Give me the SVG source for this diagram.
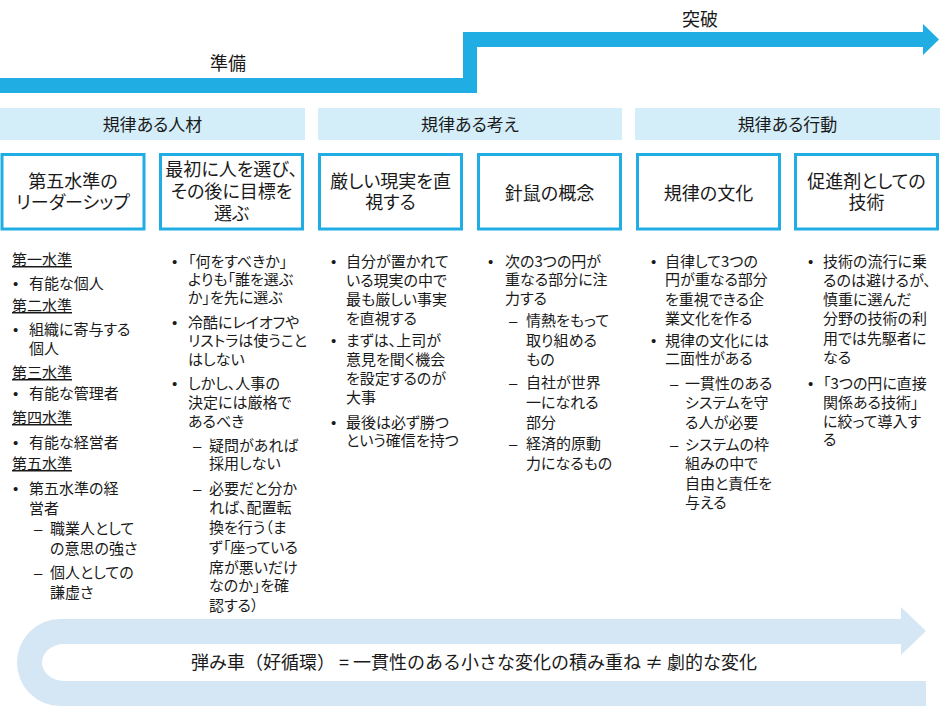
<svg xmlns="http://www.w3.org/2000/svg" width="940" height="706" viewBox="0 0 940 706">
<style>
text{font-family:"Noto Sans CJK JP","Noto Sans",sans-serif;fill:#1a1a1a;font-feature-settings:"palt";}
.lbl{font-size:18px;text-anchor:middle;}
.full{font-feature-settings:normal;}
.hd{font-size:17px;text-anchor:middle;}
.nt{font-size:18px;text-anchor:middle;}
.t{font-size:15px;}
.u{text-decoration:underline;}
.b{font-family:"Liberation Sans",sans-serif;font-size:15px;}
.hbar{fill:#D3EDF9;}
.box{fill:#fff;stroke:#1FADE4;stroke-width:3;}
</style>
<rect width="940" height="706" fill="#fff"/>
<g id="connectors">
<path id="stage-arrow" d="M0 78 L463 78 L463 32 L923 32 L923 24 L939 39.5 L923 55 L923 47 L477 47 L477 93 L0 93 Z" fill="#1FADE4"/>
<path id="flywheel-arrow" d="M901 619 L901 607 L926 631 L901 655 L901 644 L64 644 A22 18.5 0 0 0 64 681 L926 681 L926 706 L60 706 A43 43.5 0 0 1 60 619 Z" fill="#D5E7F5"/>
</g>
<g id="stage-labels">
<text class="lbl" x="228" y="70">準備</text>
<text class="lbl" x="700" y="26">突破</text>
</g>
<g id="hdr-people"><rect class="hbar" x="0" y="108" width="305" height="32"/><text class="hd" x="152.5" y="131">規律ある人材</text></g>
<g id="hdr-thought"><rect class="hbar" x="318" y="108" width="304" height="32"/><text class="hd" x="470" y="131">規律ある考え</text></g>
<g id="hdr-action"><rect class="hbar" x="635" y="108" width="305" height="32"/><text class="hd" x="787.5" y="131">規律ある行動</text></g>

<g id="node-level5">
<rect class="box" x="2" y="154.5" width="142" height="74.5"/>
<text class="nt" x="73" y="188">第五水準の</text>
<text class="nt" x="73" y="209">リーダーシップ</text>
</g>
<g id="node-who-first">
<rect class="box" x="160.5" y="154.5" width="142" height="74.5"/>
<text class="nt" x="231.5" y="176">最初に人を選び、</text>
<text class="nt" x="231.5" y="198">その後に目標を</text>
<text class="nt" x="231.5" y="220">選ぶ</text>
</g>
<g id="node-brutal-facts">
<rect class="box" x="319.5" y="154.5" width="142" height="74.5"/>
<text class="nt" x="390.5" y="188">厳しい現実を直</text>
<text class="nt" x="390.5" y="209">視する</text>
</g>
<g id="node-hedgehog">
<rect class="box" x="478.5" y="154.5" width="142" height="74.5"/>
<text class="nt" x="549.5" y="200">針鼠の概念</text>
</g>
<g id="node-culture">
<rect class="box" x="637.5" y="154.5" width="142" height="74.5"/>
<text class="nt" x="708.5" y="200">規律の文化</text>
</g>
<g id="node-technology">
<rect class="box" x="795.5" y="154.5" width="142" height="74.5"/>
<text class="nt" x="866.5" y="188">促進剤としての</text>
<text class="nt" x="866.5" y="209">技術</text>
</g>

<g id="col-level5">
<text class="t u" x="12" y="265">第一水準</text>
<text class="b" x="13" y="289">•</text><text class="t" x="29" y="289">有能な個人</text>
<text class="t u" x="12" y="311">第二水準</text>
<text class="b" x="13" y="335">•</text><text class="t" x="29" y="335">組織に寄与する</text>
<text class="t" x="29" y="354">個人</text>
<text class="t u" x="12" y="378">第三水準</text>
<text class="b" x="13" y="399">•</text><text class="t" x="29" y="399">有能な管理者</text>
<text class="t u" x="12" y="423">第四水準</text>
<text class="b" x="13" y="448">•</text><text class="t" x="29" y="448">有能な経営者</text>
<text class="t u" x="12" y="469">第五水準</text>
<text class="b" x="13" y="494">•</text><text class="t" x="29" y="494">第五水準の経</text>
<text class="t" x="29" y="514">営者</text>
<text class="b" x="34" y="534">–</text><text class="t" x="50" y="534">職業人として</text>
<text class="t" x="50" y="554">の意思の強さ</text>
<text class="b" x="34" y="578">–</text><text class="t" x="50" y="578">個人としての</text>
<text class="t" x="50" y="598">謙虚さ</text>
</g>

<g id="col-who-first">
<text class="b" x="172" y="267">•</text><text class="t" x="188" y="267">「何をすべきか」</text>
<text class="t" x="188" y="285">よりも「誰を選ぶ</text>
<text class="t" x="188" y="303">か」を先に選ぶ</text>
<text class="b" x="172" y="328">•</text><text class="t" x="188" y="328">冷酷にレイオフや</text>
<text class="t" x="188" y="346">リストラは使うこと</text>
<text class="t" x="188" y="365">はしない</text>
<text class="b" x="172" y="389">•</text><text class="t" x="188" y="389">しかし、人事の</text>
<text class="t" x="188" y="408">決定には厳格で</text>
<text class="t" x="188" y="427">あるべき</text>
<text class="b" x="193" y="451">–</text><text class="t" x="209" y="451">疑問があれば</text>
<text class="t" x="209" y="469">採用しない</text>
<text class="b" x="193" y="494">–</text><text class="t" x="209" y="494">必要だと分か</text>
<text class="t" x="209" y="513">れば、配置転</text>
<text class="t" x="209" y="533">換を行う（ま</text>
<text class="t" x="209" y="553">ず「座っている</text>
<text class="t" x="209" y="573">席が悪いだけ</text>
<text class="t" x="209" y="591">なのか」を確</text>
<text class="t" x="209" y="611">認する）</text>
</g>

<g id="col-brutal-facts">
<text class="b" x="331" y="267">•</text><text class="t" x="346" y="267">自分が置かれて</text>
<text class="t" x="346" y="286">いる現実の中で</text>
<text class="t" x="346" y="305">最も厳しい事実</text>
<text class="t" x="346" y="324">を直視する</text>
<text class="b" x="331" y="346">•</text><text class="t" x="346" y="346">まずは、上司が</text>
<text class="t" x="346" y="365">意見を聞く機会</text>
<text class="t" x="346" y="384">を設定するのが</text>
<text class="t" x="346" y="403">大事</text>
<text class="b" x="331" y="428">•</text><text class="t" x="346" y="428">最後は必ず勝つ</text>
<text class="t" x="346" y="446">という確信を持つ</text>
</g>

<g id="col-hedgehog">
<text class="b" x="488" y="267">•</text><text class="t" x="505" y="267">次の3つの円が</text>
<text class="t" x="505" y="285">重なる部分に注</text>
<text class="t" x="505" y="304">力する</text>
<text class="b" x="509" y="326">–</text><text class="t" x="526" y="326">情熱をもって</text>
<text class="t" x="526" y="346">取り組める</text>
<text class="t" x="526" y="365">もの</text>
<text class="b" x="509" y="388">–</text><text class="t" x="526" y="388">自社が世界</text>
<text class="t" x="526" y="408">一になれる</text>
<text class="t" x="526" y="428">部分</text>
<text class="b" x="509" y="449">–</text><text class="t" x="526" y="449">経済的原動</text>
<text class="t" x="526" y="469">力になるもの</text>
</g>

<g id="col-culture">
<text class="b" x="651" y="267">•</text><text class="t" x="665" y="267">自律して3つの</text>
<text class="t" x="665" y="285">円が重なる部分</text>
<text class="t" x="665" y="305">を重視できる企</text>
<text class="t" x="665" y="324">業文化を作る</text>
<text class="b" x="651" y="346">•</text><text class="t" x="665" y="346">規律の文化には</text>
<text class="t" x="665" y="364">二面性がある</text>
<text class="b" x="670" y="389">–</text><text class="t" x="685" y="389">一貫性のある</text>
<text class="t" x="685" y="408">システムを守</text>
<text class="t" x="685" y="428">る人が必要</text>
<text class="b" x="670" y="450">–</text><text class="t" x="685" y="450">システムの枠</text>
<text class="t" x="685" y="469">組みの中で</text>
<text class="t" x="685" y="489">自由と責任を</text>
<text class="t" x="685" y="508">与える</text>
</g>

<g id="col-technology">
<text class="b" x="808" y="267">•</text><text class="t" x="823" y="267">技術の流行に乗</text>
<text class="t" x="823" y="286">るのは避けるが、</text>
<text class="t" x="823" y="305">慎重に選んだ</text>
<text class="t" x="823" y="324">分野の技術の利</text>
<text class="t" x="823" y="344">用では先駆者に</text>
<text class="t" x="823" y="363">なる</text>
<text class="b" x="808" y="389">•</text><text class="t" x="823" y="389">「3つの円に直接</text>
<text class="t" x="823" y="408">関係ある技術」</text>
<text class="t" x="823" y="427">に絞って導入す</text>
<text class="t" x="823" y="445">る</text>
</g>

<g id="flywheel-label">
<text class="lbl full" x="474" y="669">弾み車（好循環） = 一貫性のある小さな変化の積み重ね ≠ 劇的な変化</text>
</g>
</svg>
